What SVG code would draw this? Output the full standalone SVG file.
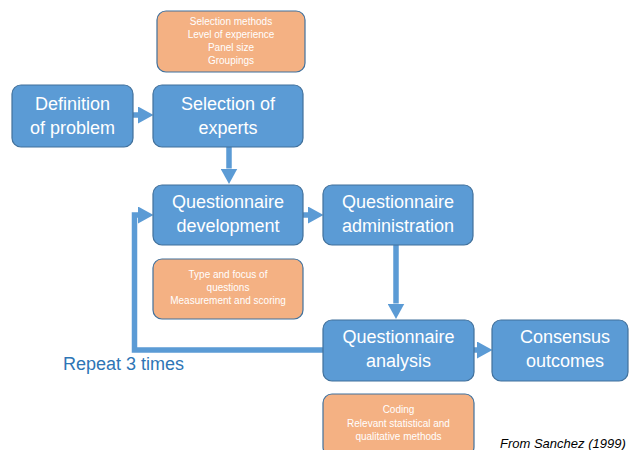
<svg xmlns="http://www.w3.org/2000/svg" width="630" height="450" viewBox="0 0 630 450">
<style>
.node rect{fill:#5B9BD5;stroke:#41719C;stroke-width:1.2}
.note rect{fill:#F4B183;stroke:#41719C;stroke-width:1.2}
.node text{font-family:"Liberation Sans",Arial,sans-serif;font-size:18px;fill:#fff;text-anchor:middle}
.note text{font-family:"Liberation Sans",Arial,sans-serif;font-size:10px;fill:#fff;text-anchor:middle}
.conn path{fill:none;stroke:#5B9BD5;stroke-width:5.5}
.lbl{font-family:"Liberation Sans",Arial,sans-serif;font-size:18px;fill:#2E75B6}
.cite{font-family:"Liberation Sans",Arial,sans-serif;font-size:13px;font-style:italic;fill:#000}
</style>
<defs>
<marker id="ah" markerUnits="userSpaceOnUse" markerWidth="16" markerHeight="17" refX="0" refY="8.5" orient="auto" viewBox="0 0 16 17">
<path d="M0,0 L15.5,8.5 L0,17 Z" fill="#5B9BD5"/>
</marker>
</defs>
<rect width="630" height="450" fill="#fff"/>

<g class="conn">
<path d="M133,115 H138" marker-end="url(#ah)"/>
<path d="M229,147 V168.5" marker-end="url(#ah)"/>
<path d="M303,215 H308" marker-end="url(#ah)"/>
<path d="M396,245 V303.5" marker-end="url(#ah)"/>
<path d="M323,350 H134.5 V215 H138" marker-end="url(#ah)"/>
<path d="M474,350 H477" marker-end="url(#ah)"/>
</g>

<g id="note-experts" class="note">
<rect x="157" y="11" width="148" height="61" rx="9"/>
<text x="231" y="25">Selection  methods</text>
<text x="231" y="38">Level of experience</text>
<text x="231" y="51">Panel size</text>
<text x="231" y="64">Groupings</text>
</g>

<g id="definition" class="node">
<rect x="12" y="85" width="121" height="62" rx="9"/>
<text x="72.5" y="110">Definition</text>
<text x="72.5" y="134">of problem</text>
</g>

<g id="selection" class="node">
<rect x="153" y="85" width="150" height="62" rx="9"/>
<text x="228" y="110">Selection of</text>
<text x="228" y="134">experts</text>
</g>

<g id="development" class="node">
<rect x="153" y="185" width="150" height="60" rx="9"/>
<text x="228" y="208">Questionnaire</text>
<text x="228" y="232">development</text>
</g>

<g id="administration" class="node">
<rect x="323" y="185" width="150" height="60" rx="9"/>
<text x="398" y="208">Questionnaire</text>
<text x="398" y="232">administration</text>
</g>

<g id="note-development" class="note">
<rect x="153" y="259" width="150" height="60" rx="9"/>
<text x="228" y="278">Type and focus  of</text>
<text x="228" y="291">questions</text>
<text x="228" y="304">Measurement and scoring</text>
</g>

<g id="analysis" class="node">
<rect x="323" y="320" width="151" height="61" rx="9"/>
<text x="398.5" y="343">Questionnaire</text>
<text x="398.5" y="367">analysis</text>
</g>

<g id="consensus" class="node">
<rect x="492" y="320" width="136" height="61" rx="9"/>
<text x="565" y="343">Consensus</text>
<text x="565" y="367">outcomes</text>
</g>

<g id="note-analysis" class="note">
<rect x="323" y="394" width="151" height="62" rx="9"/>
<text x="398.5" y="413">Coding</text>
<text x="398.5" y="427">Relevant statistical and</text>
<text x="398.5" y="440">qualitative methods</text>
</g>

<text class="lbl" x="63" y="370">Repeat 3 times</text>
<text class="cite" x="500" y="448">From Sanchez (1999)</text>
</svg>
